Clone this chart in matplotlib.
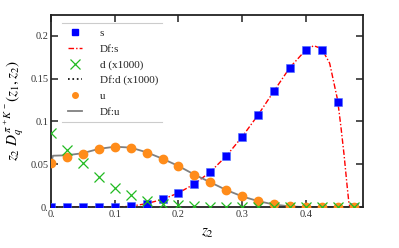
import numpy as np
import matplotlib
matplotlib.use("Agg")
import matplotlib.pyplot as plt
from matplotlib.lines import Line2D

plt.rcParams['font.family'] = ['Liberation Serif', 'DejaVu Serif']
plt.rcParams['mathtext.fontset'] = 'stix'

# data points
z2 = [0.0, 0.025, 0.05, 0.075, 0.1, 0.125, 0.15, 0.175, 0.2, 0.225,
      0.25, 0.275, 0.3, 0.325, 0.35, 0.375, 0.4, 0.425, 0.45, 0.475]
s_vals = [0, 0, 0, 0, 0, 0.0008, 0.0035, 0.009, 0.0167, 0.027,
          0.041, 0.0597, 0.0819, 0.1076, 0.1357, 0.163, 0.1836, 0.183, 0.123, 0]
d_vals = [0.087, 0.0667, 0.052, 0.0355, 0.0226, 0.014, 0.0067, 0.0035, 0.002, 0.001,
          0.0005, 0.0003, 0.0002, 0.0001, 0, 0, 0, 0, 0, 0]
u_vals = [0.051, 0.058, 0.0616, 0.068, 0.0705, 0.069, 0.0635, 0.056, 0.048, 0.038,
          0.0289, 0.0199, 0.0129, 0.007, 0.0035, 0.001, 0, 0, 0, 0]

# fitted curves
dfs_x = [0.0, 0.1, 0.125, 0.15, 0.175, 0.2, 0.225, 0.25, 0.275, 0.3, 0.325, 0.35,
         0.375, 0.4, 0.4125, 0.425, 0.4375, 0.45, 0.455, 0.46, 0.465, 0.468, 0.47, 0.49]
dfs_y = [0.0, 0.0, 0.001, 0.004, 0.009, 0.0165, 0.027, 0.041, 0.0595, 0.082, 0.1075, 0.1355,
         0.163, 0.1835, 0.1885, 0.185, 0.168, 0.125, 0.095, 0.062, 0.024, 0.003, 0.0, 0.0]
dfu_x = [0.0, 0.003, 0.025, 0.05, 0.075, 0.1, 0.125, 0.15, 0.175, 0.2, 0.225, 0.25,
         0.275, 0.3, 0.325, 0.35, 0.375, 0.4, 0.49]
dfu_y = [0.051, 0.06, 0.0605, 0.063, 0.068, 0.0705, 0.0695, 0.064, 0.0565, 0.048, 0.038, 0.029,
         0.02, 0.0125, 0.007, 0.003, 0.0008, 0.0, 0.0]

xticks = [0, 0.1, 0.2, 0.3, 0.4]
xticklabels = ['0.', '0.1', '0.2', '0.3', '0.4']
yticks = [0, 0.05, 0.1, 0.15, 0.2]
yticklabels = ['0.', '0.05', '0.1', '0.15', '0.2']

fig = plt.figure(figsize=(3.99, 2.48), dpi=100)
ax = fig.add_axes([0.128, 0.165, 0.782, 0.775])

ax.plot(dfs_x, dfs_y, color='red', ls=(0, (4, 1.5, 1, 1.5)), lw=1.0, zorder=2)
ax.plot(dfu_x, dfu_y, color='gray', lw=1.3, zorder=2)
ax.plot(z2, s_vals, ls='none', marker='s', ms=5.2, color='blue', mec='#4a6cff', mew=0.4, zorder=3)
ax.plot(z2, u_vals, ls='none', marker='o', ms=6, color='#ff8c1a', mec='#ff8c1a', zorder=3)
ax.plot(z2, d_vals, ls='none', marker='x', ms=7, color='#22bb22', mew=0.9, zorder=4)

ax.set_xlim(0, 0.49)
ax.set_ylim(0, 0.2245)
ax.set_xticks(xticks)
ax.set_xticklabels(xticklabels)
ax.set_yticks(yticks)
ax.set_yticklabels(yticklabels)
ax.tick_params(direction='in', length=5, width=1.2, top=True, right=True,
               labelsize=7.5, pad=2, colors='#333333', labelcolor='#333333')
for sp in ax.spines.values():
    sp.set_linewidth(1.3)
    sp.set_color('#222222')

ax.set_xlabel(r'$z_2$', fontsize=11, labelpad=6)
ax.set_ylabel(r'$z_2\; D_q^{\,\pi^+ K^-}(z_1,z_2)$', fontsize=11, labelpad=3)

handles = [
    Line2D([], [], ls='none', marker='s', ms=4, color='blue'),
    Line2D([], [], color='red', ls=(0, (4, 1.5, 1, 1.5)), lw=1.0),
    Line2D([], [], ls='none', marker='x', ms=7, color='#22bb22', mew=0.9),
    Line2D([], [], color='black', ls=':', lw=1.2),
    Line2D([], [], ls='none', marker='o', ms=4, color='#ff8c1a'),
    Line2D([], [], color='gray', lw=1.3),
]
labels = ['s', 'Df:s', 'd (x1000)', 'Df:d (x1000)', 'u', 'Df:u']
leg = ax.legend(handles, labels, loc='upper left', bbox_to_anchor=(0.035, 0.958),
                fontsize=8, frameon=True, handlelength=1.3, handletextpad=1.6,
                labelspacing=0.52, borderpad=0.5, borderaxespad=0)
leg.get_frame().set_edgecolor('none')
leg.get_frame().set_facecolor('white')
leg.get_frame().set_alpha(1)
for t in leg.get_texts():
    t.set_color('#222222')

ax.plot([0.035, 0.356], [0.958, 0.958], transform=ax.transAxes, color='#cccccc', lw=0.8, zorder=6)
ax.plot([0.035, 0.356], [0.443, 0.443], transform=ax.transAxes, color='#cccccc', lw=0.8, zorder=6)

fig.savefig('out.png', dpi=100)
